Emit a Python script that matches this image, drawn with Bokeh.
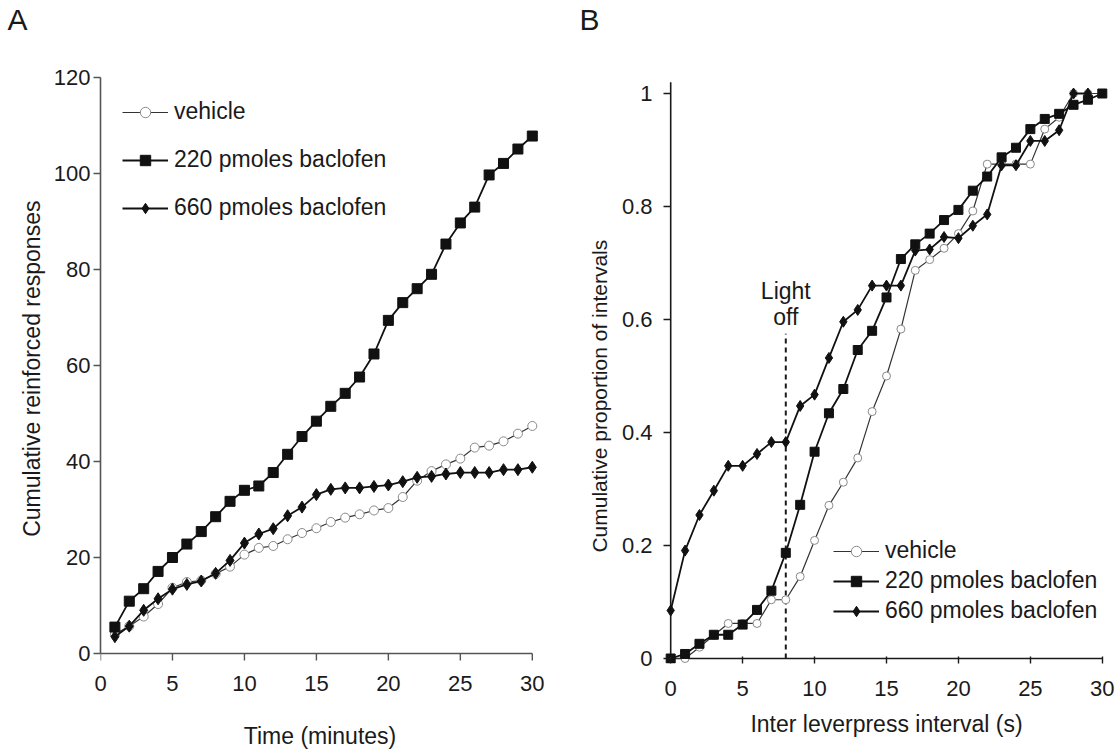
from bokeh.plotting import figure
from bokeh.models import Legend, LegendItem, Label, Range1d, FixedTicker, Title
from bokeh.layouts import row
from bokeh.embed import file_html
from bokeh.resources import INLINE

FONT = "Liberation Sans"
INK = "#1a1a1a"
NB = "\u00a0"

# ---------------- Panel A data ----------------
time_min = list(range(1, 31))
a_vehicle = [4.0, 5.7, 7.7, 10.3, 13.7, 14.9, 15.2, 16.6, 18.1, 20.6,
             22.0, 22.4, 23.8, 25.1, 26.1, 27.4, 28.3, 29.0, 29.8, 30.3,
             32.6, 36.0, 38.0, 39.4, 40.6, 42.9, 43.3, 44.2, 45.8, 47.4]
a_220 = [5.5, 10.9, 13.5, 17.1, 20.0, 22.8, 25.4, 28.5, 31.7, 34.0,
         34.9, 37.7, 41.5, 45.2, 48.4, 51.5, 54.2, 57.6, 62.4, 69.4,
         73.1, 76.0, 79.0, 85.3, 89.7, 93.0, 99.7, 102.1, 105.1, 107.8]
a_660 = [3.5, 5.7, 9.0, 11.4, 13.4, 14.4, 15.1, 16.7, 19.4, 23.0,
         24.9, 26.0, 28.7, 30.5, 33.1, 34.2, 34.5, 34.5, 34.8, 35.1,
         35.8, 36.7, 36.9, 37.4, 37.7, 37.7, 37.7, 38.3, 38.3, 38.8]

# ---------------- Panel B data ----------------
interval_s = list(range(0, 31))
b_vehicle = [0.0, 0.0, 0.020, 0.041, 0.062, 0.062, 0.062, 0.104, 0.104, 0.145,
             0.209, 0.271, 0.312, 0.355, 0.437, 0.500, 0.583, 0.687, 0.706, 0.726,
             0.752, 0.792, 0.875, 0.875, 0.875, 0.875, 0.937, 0.958, 1.0, 1.0, 1.0]
b_220 = [0.0, 0.008, 0.026, 0.042, 0.042, 0.060, 0.086, 0.120, 0.187, 0.272,
         0.366, 0.434, 0.477, 0.546, 0.580, 0.639, 0.707, 0.733, 0.752, 0.776,
         0.794, 0.828, 0.853, 0.887, 0.904, 0.937, 0.955, 0.964, 0.980, 0.989, 1.0]
b_660 = [0.085, 0.191, 0.254, 0.297, 0.341, 0.341, 0.362, 0.383, 0.383, 0.447,
         0.467, 0.532, 0.596, 0.617, 0.660, 0.660, 0.660, 0.722, 0.724, 0.746,
         0.744, 0.766, 0.786, 0.873, 0.873, 0.916, 0.916, 0.935, 1.0, 1.0]

series_labels = ["vehicle", "220 pmoles baclofen", "660 pmoles baclofen"]
a_yticks = [0, 20, 40, 60, 80, 100, 120]
b_yticks = [0, 0.2, 0.4, 0.6, 0.8, 1]
xticks = [0, 5, 10, 15, 20, 25, 30]
b_axis_top = 1.02
light_off_x = 8
light_off_top = 0.575
a_tick_len = 1.45   # length of panel-A x ticks, in data units (~7 px)


def base_style(p):
    p.grid.visible = False
    p.outline_line_color = None
    p.background_fill_color = "white"
    p.border_fill_color = "white"
    for ax in (p.xaxis[0], p.yaxis[0]):
        ax.minor_tick_line_color = None
        ax.major_label_text_font = FONT
        ax.major_label_text_font_size = "22px"
        ax.major_label_text_color = INK
        ax.axis_label_text_font = FONT
        ax.axis_label_text_font_style = "normal"
        ax.axis_label_text_color = INK


def draw_series(p, x, yv, y2, y6, msize):
    r_vl = p.line(x, yv, line_color="#333333", line_width=1.2)
    r_vm = p.scatter(x, yv, marker="circle", size=msize - 1, fill_color="white",
                     line_color="#8a8a8a", line_width=1)
    r_2l = p.line(x[:len(y2)], y2, line_color="#111111", line_width=1.8)
    r_2m = p.scatter(x[:len(y2)], y2, marker="square", size=msize,
                     fill_color="#111111", line_color="#111111")
    r_6l = p.line(x[:len(y6)], y6, line_color="#111111", line_width=1.8)
    r_6m = p.scatter(x[:len(y6)], y6, marker="diamond", size=msize + 2,
                     fill_color="#111111", line_color="#111111")
    return [[r_vl, r_vm], [r_2l, r_2m], [r_6l, r_6m]]


def make_legend(groups, loc, spacing):
    items = [LegendItem(label=lab, renderers=rs) for lab, rs in zip(series_labels, groups)]
    lg = Legend(items=items, location=loc, orientation="vertical")
    lg.label_text_font = FONT
    lg.label_text_font_size = "23px"
    lg.label_text_color = INK
    lg.glyph_width = 46
    lg.glyph_height = 26
    lg.label_height = 26
    lg.label_standoff = 6
    lg.spacing = spacing
    lg.padding = 0
    lg.margin = 0
    lg.border_line_color = None
    lg.background_fill_alpha = 0
    return lg


def panel_title(text, offset):
    return Title(text=text, align="left", offset=offset, text_font=FONT,
                 text_font_size="30px", text_font_style="normal",
                 text_color=INK, standoff=0)


# ---------------- Panel A ----------------
A_AXIS = "#555555"
pA = figure(width=575, height=753, output_backend="svg", toolbar_location=None,
            x_range=Range1d(0, 30.5), y_range=Range1d(-2.083, 128.75),
            min_border_left=100, min_border_right=36,
            min_border_top=0, min_border_bottom=90)
base_style(pA)
pA.title = panel_title("A", -93)
pA.xaxis.ticker = FixedTicker(ticks=xticks)
pA.yaxis.ticker = FixedTicker(ticks=a_yticks)
pA.yaxis.bounds = (a_yticks[0], a_yticks[-1])
pA.yaxis.axis_line_color = A_AXIS
pA.yaxis.axis_line_width = 1.6
pA.yaxis.major_tick_line_color = A_AXIS
pA.yaxis.major_tick_line_width = 1.4
pA.yaxis.major_tick_in = 0
pA.yaxis.major_tick_out = 7
pA.yaxis.major_label_standoff = 3
pA.xaxis.axis_line_color = None
pA.xaxis.major_tick_line_color = None
pA.xaxis.major_label_standoff = 6
pA.xaxis.axis_label = "Time (minutes)"
pA.yaxis.axis_label = "Cumulative reinforced responses" + NB * 6
pA.xaxis.axis_label_text_font_size = "23px"
pA.yaxis.axis_label_text_font_size = "23px"
pA.xaxis.axis_label_standoff = 29
pA.yaxis.axis_label_standoff = 6
# x axis line and ticks at y = 0
pA.segment(x0=[xticks[0]], y0=[0], x1=[xticks[-1]], y1=[0],
           line_color=A_AXIS, line_width=1.6)
pA.segment(x0=xticks, y0=[0] * len(xticks), x1=xticks, y1=[-a_tick_len] * len(xticks),
           line_color=A_AXIS, line_width=1.4)
gA = draw_series(pA, time_min, a_vehicle, a_220, a_660, 10)
pA.add_layout(make_legend(gA, (22, 442), 21))

# ---------------- Panel B ----------------
B_AXIS = "#1a1a1a"
pB = figure(width=542, height=753, output_backend="svg", toolbar_location=None,
            x_range=Range1d(-0.5, 30.5), y_range=Range1d(-0.00885, 1.10266),
            min_border_left=88, min_border_right=8,
            min_border_top=0, min_border_bottom=90)
base_style(pB)
pB.title = panel_title("B", -84)
pB.xaxis.ticker = FixedTicker(ticks=xticks)
pB.yaxis.ticker = FixedTicker(ticks=b_yticks)
pB.yaxis.major_label_overrides = {0: "0", 1: "1"}
for ax in (pB.xaxis[0], pB.yaxis[0]):
    ax.axis_line_color = None
    ax.major_tick_line_color = B_AXIS
    ax.major_tick_line_width = 1.4
    ax.major_tick_in = 7
    ax.major_tick_out = 0
pB.xaxis.axis_label = "Inter leverpress interval (s)"
pB.yaxis.axis_label = "Cumulative proportion of intervals" + NB * 16
pB.xaxis.axis_label_text_font_size = "23px"
pB.yaxis.axis_label_text_font_size = "21px"
pB.xaxis.major_label_standoff = 17
pB.yaxis.major_label_standoff = 11
pB.xaxis.axis_label_standoff = 12
pB.yaxis.axis_label_standoff = 8
# axis lines crossing at the origin
pB.segment(x0=[xticks[0]], y0=[0], x1=[xticks[-1]], y1=[0],
           line_color=B_AXIS, line_width=1.6)
pB.segment(x0=[xticks[0]], y0=[0], x1=[xticks[0]], y1=[b_axis_top],
           line_color=B_AXIS, line_width=1.6)

pB.segment(x0=[light_off_x], y0=[0], x1=[light_off_x], y1=[light_off_top],
           line_color=INK, line_width=2, line_dash="5 4")
gB = draw_series(pB, interval_s, b_vehicle, b_220, b_660, 9)
pB.add_layout(make_legend(gB, (170, 39), 3))
pB.add_layout(Label(x=light_off_x, y=0.651, text="Light", text_font=FONT,
                    text_font_size="23px", text_color=INK, text_align="center",
                    text_baseline="middle"))
pB.add_layout(Label(x=light_off_x, y=0.604, text="off", text_font=FONT,
                    text_font_size="23px", text_color=INK, text_align="center",
                    text_baseline="middle"))

layout = row(pA, pB, spacing=0)
open("out.html", "w").write(file_html(layout, INLINE))
